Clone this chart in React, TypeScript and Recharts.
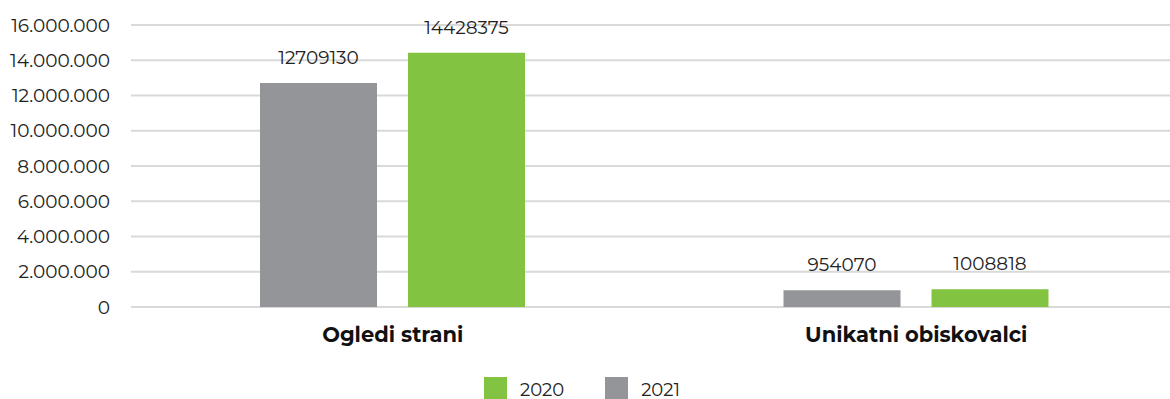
import { Bar, BarChart, CartesianGrid, LabelList, Legend, XAxis, YAxis } from "recharts";

const categories = ["Ogledi strani", "Unikatni obiskovalci"];
const values2021 = [12709130, 954070];
const values2020 = [14428375, 1008818];
const yTicks = [0, 2000000, 4000000, 6000000, 8000000, 10000000, 12000000, 14000000, 16000000];

const GREEN = "#82c341";
const GRAY = "#939598";
const FONT = "Montserrat, 'Open Sans', sans-serif";

const data = categories.map((name, i) => ({
  name,
  y2021: values2021[i],
  y2020: values2020[i],
}));

function dots(v: number) {
  return String(v).replace(/\B(?=(\d{3})+(?!\d))/g, ".");
}

type LegendItem = { value?: string; color?: string };

function LegendBox({ payload }: { payload?: LegendItem[] }) {
  const items = [...(payload ?? [])].sort((a, b) => String(a.value).localeCompare(String(b.value)));
  return (
    <div
      style={{
        display: "flex",
        justifyContent: "center",
        gap: 41,
        paddingRight: 12,
        fontFamily: FONT,
        fontSize: 18,
        color: "#222",
      }}
    >
      {items.map((it) => (
        <div key={it.value} style={{ display: "flex", alignItems: "center" }}>
          <span style={{ width: 23, height: 23, background: it.color, display: "inline-block", marginRight: 13 }} />
          <span style={{ marginTop: 4, lineHeight: "20px" }}>{it.value}</span>
        </div>
      ))}
    </div>
  );
}

export default function App() {
  return (
    <div style={{ position: "absolute", left: 0, top: 0, background: "#fff" }}>
      <BarChart
        width={1170}
        height={399}
        data={data}
        margin={{ top: 25, right: -8, left: -2, bottom: 0 }}
        barGap={31}
        barSize={117}
      >
        <CartesianGrid vertical={false} stroke="#d9d9d9" strokeWidth={2} />
        <XAxis
          dataKey="name"
          axisLine={false}
          tickLine={false}
          tickSize={0}
          tickMargin={20}
          height={50}
          tick={{ fill: "#111", fontSize: 21, fontWeight: 700, fontFamily: FONT }}
        />
        <YAxis
          domain={[0, 16000000]}
          ticks={yTicks}
          tickFormatter={dots}
          axisLine={false}
          tickLine={false}
          tickSize={0}
          tickMargin={21}
          width={133}
          tick={{ fill: "#222", fontSize: 18.5, fontFamily: FONT }}
        />
        <Legend
          height={42}
          verticalAlign="bottom"
          wrapperStyle={{ top: 376 }}
          content={(props: any) => <LegendBox payload={props.payload} />}
        />
        <Bar dataKey="y2021" name="2021" fill={GRAY} isAnimationActive={false}>
          <LabelList dataKey="y2021" position="top" offset={19} style={{ fill: "#222", fontSize: 18.5, fontFamily: FONT }} />
        </Bar>
        <Bar dataKey="y2020" name="2020" fill={GREEN} isAnimationActive={false}>
          <LabelList dataKey="y2020" position="top" offset={19} style={{ fill: "#222", fontSize: 18.5, fontFamily: FONT }} />
        </Bar>
      </BarChart>
    </div>
  );
}
